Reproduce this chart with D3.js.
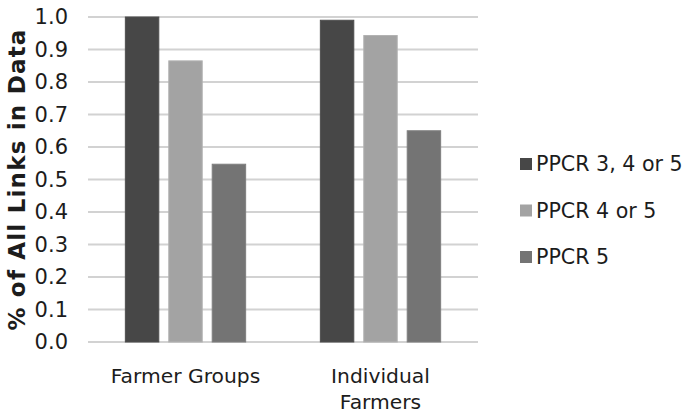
<!DOCTYPE html>
<html>
<head>
<meta charset="utf-8">
<script src="https://cdn.jsdelivr.net/npm/d3@7"></script>
<style>
  html, body { margin: 0; padding: 0; background: #fff; }
  svg { display: block; }
  text { font-family: "DejaVu Sans", Verdana, sans-serif; fill: #1c1c1c; }
</style>
</head>
<body>
<svg id="chart" width="689" height="413"></svg>
<script>
// Share of all links in the data, by recipient type and PPCR level
const categories = ["Farmer Groups", "Individual Farmers"];
const seriesNames = ["PPCR 3, 4 or 5", "PPCR 4 or 5", "PPCR 5"];
const ppcr345 = [1.0, 0.99];
const ppcr45 = [0.865, 0.943];
const ppcr5 = [0.547, 0.65];
const yTicks = [0, 0.1, 0.2, 0.3, 0.4, 0.5, 0.6, 0.7, 0.8, 0.9, 1.0];
const seriesValues = [ppcr345, ppcr45, ppcr5];
const colors = ["#474747", "#a3a3a3", "#747474"];

const svg = d3.select("#chart");
const plot = { left: 88, right: 478, top: 17, bottom: 342 };

const x0 = d3.scaleBand().domain(categories).range([plot.left, plot.right]).padding(0);
const x1 = d3.scaleBand().domain(seriesNames).range([0, x0.bandwidth()])
  .paddingInner(0.23).paddingOuter(0.86);
const y = d3.scaleLinear().domain([0, 1]).range([plot.bottom, plot.top]);

// horizontal gridlines
svg.append("g")
  .selectAll("line")
  .data(yTicks)
  .join("line")
  .attr("x1", plot.left).attr("x2", plot.right)
  .attr("y1", d => y(d)).attr("y2", d => y(d))
  .attr("stroke", "#d2d2d2").attr("stroke-width", 2);

// y axis labels
const yAxis = d3.axisLeft(y).tickValues(yTicks).tickFormat(d3.format(".1f"))
  .tickSize(0).tickPadding(20);
const gy = svg.append("g").attr("transform", `translate(${plot.left},0)`).call(yAxis);
gy.select(".domain").remove();
gy.selectAll("text").attr("font-size", 21).attr("fill", "#1c1c1c")
  .attr("font-family", "DejaVu Sans, Verdana, sans-serif");

// bars
const rows = categories.map((c, i) => ({ cat: c, vals: seriesNames.map((s, j) => ({ s, v: seriesValues[j][i], j })) }));
svg.append("g")
  .selectAll("g")
  .data(rows)
  .join("g")
  .attr("transform", d => `translate(${x0(d.cat)},0)`)
  .selectAll("rect")
  .data(d => d.vals)
  .join("rect")
  .attr("x", d => x1(d.s))
  .attr("width", x1.bandwidth())
  .attr("y", d => y(d.v))
  .attr("height", d => y(0) - y(d.v))
  .attr("fill", d => colors[d.j])
  .attr("stroke", d => d3.color(colors[d.j]).brighter(0.25))
  .attr("stroke-width", 1);

// x axis labels, wrapped
const xAxis = d3.axisBottom(x0).tickSize(0).tickPadding(0);
const gx = svg.append("g").attr("transform", `translate(0,${plot.bottom})`).call(xAxis);
gx.select(".domain").remove();
gx.selectAll("text")
  .attr("font-size", 20.3).attr("fill", "#1c1c1c")
  .attr("font-family", "DejaVu Sans, Verdana, sans-serif")
  .attr("dy", null).attr("y", 0)
  .each(function(d) {
    const t = d3.select(this);
    const words = d.split(" ");
    t.text(null);
    const maxW = 165;
    let lines = [[]];
    const probe = t.append("tspan");
    words.forEach(w => {
      const cur = lines[lines.length - 1];
      probe.text([...cur, w].join(" "));
      if (cur.length && probe.node().getComputedTextLength() > maxW) lines.push([w]);
      else cur.push(w);
    });
    probe.remove();
    lines.forEach((ln, i) => {
      t.append("tspan").attr("x", 0).attr("y", 41 + i * 26).text(ln.join(" "));
    });
  });

// y axis title
svg.append("text")
  .attr("transform", `translate(25,${(plot.top + plot.bottom) / 2}) rotate(-90)`)
  .attr("text-anchor", "middle")
  .attr("font-size", 23).attr("font-weight", "bold")
  .attr("letter-spacing", 1.2)
  .text("% of All Links in Data");

// legend
const legend = svg.append("g").attr("transform", "translate(520,164)")
  .selectAll("g")
  .data(seriesNames)
  .join("g")
  .attr("transform", (d, i) => `translate(0,${i * 46.5})`);
legend.append("rect").attr("x", 0).attr("y", -6).attr("width", 12).attr("height", 12)
  .attr("fill", (d, i) => colors[i]);
legend.append("text").attr("x", 16).attr("y", 0).attr("dy", "0.35em")
  .attr("font-size", 20.6).text(d => d);
</script>
</body>
</html>
